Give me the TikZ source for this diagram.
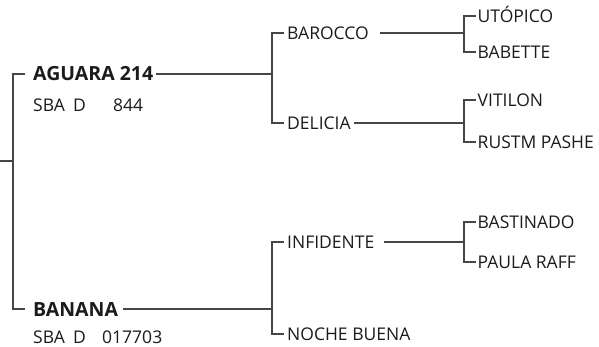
\documentclass[tikz,border=0pt]{standalone}
\usepackage{fontspec}
\setmainfont{Open Sans}
\usetikzlibrary{calc}
\definecolor{inkblack}{RGB}{28,26,27}
\definecolor{linegray}{RGB}{70,70,70}

\begin{document}
\begin{tikzpicture}[
  x=1pt, y=-1pt,
  horse/.style={anchor=west, inner ysep=0pt, inner xsep=3pt, text=inkblack,
                text height=12.5pt, text depth=0pt,
                font=\fontsize{17.5}{20}\selectfont},
  sire/.style={horse, font=\fontsize{19.5}{22}\selectfont\bfseries,
               text height=14pt},
  regno/.style={horse},
  far/.style={horse, inner xsep=1.5pt},
  link/.style={draw=linegray, line width=1.2pt},
]
\useasboundingbox (0,0) rectangle (599,347);

% -------------------------------------------------------------------------
% First generation: the two parents with their registry numbers.
% -------------------------------------------------------------------------
\node[sire] (aguara) at (30,74) {AGUARA 214};
\node[regno] (aguarareg) at (30,105)
  {\makebox[40pt][l]{SBA}\makebox[40pt][l]{D}844};
\node[sire] (banana) at (30,309) {BANANA};
\node[regno] (bananareg) at (30,337)
  {\makebox[40pt][l]{SBA}\makebox[29pt][l]{D}017703};

\coordinate (root) at (0,161);
\coordinate (j0) at (13,161);
\draw[link] (root) -- (j0);
\draw[link, shorten <=5pt, shorten >=5pt] (aguara.west) -| (j0) |- (banana.west);

% -------------------------------------------------------------------------
% Second generation.
% -------------------------------------------------------------------------
\node[horse] (barocco) at (284,33) {BAROCCO};
\node[horse] (delicia) at (284,123) {DELICIA};
\node[horse] (infidente) at (284,242) {INFIDENTE};
\node[horse] (nochebuena) at (284,334) {NOCHE BUENA};

\coordinate (j1) at (272,74);
\coordinate (j2) at (272,309);
\draw[link] (aguara.east) -- (j1);
\draw[link] (barocco.west) -| (j1) |- (delicia.west);
\draw[link] ([xshift=2pt]banana.east) -- (j2);
\draw[link] (infidente.west) -| (j2) |- (nochebuena.west);

% -------------------------------------------------------------------------
% Third generation.
% -------------------------------------------------------------------------
\node[far] (utopico) at (476,16) {UTÓPICO};
\node[far] (babette) at (476,52) {BABETTE};
\node[far] (vitilon) at (476,100) {VITILON};
\node[far] (rustm) at (476,142) {RUSTM PASHE};
\node[far] (bastinado) at (476,222) {BASTINADO};
\node[far] (paula) at (476,262) {PAULA RAFF};

\coordinate (j3) at (464,33);
\coordinate (j4) at (464,123);
\coordinate (j5) at (464,242);
\draw[link] ([xshift=8pt]barocco.east) -- (j3);
\draw[link] (utopico.west) -| (j3) |- (babette.west);
\draw[link] (delicia.east) -- (j4);
\draw[link] (vitilon.west) -| (j4) |- (rustm.west);
\draw[link] ([xshift=7pt]infidente.east) -- (j5);
\draw[link] (bastinado.west) -| (j5) |- (paula.west);

\end{tikzpicture}
\end{document}
